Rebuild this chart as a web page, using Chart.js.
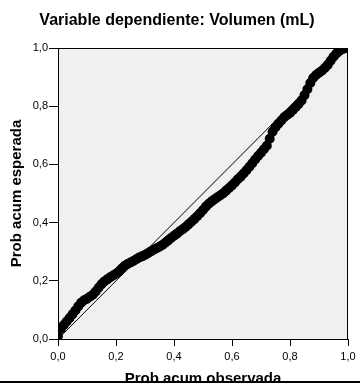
<!DOCTYPE html>
<html>
<head>
<meta charset="utf-8">
<script src="https://cdn.jsdelivr.net/npm/chart.js@4"></script>
<style>
  html, body { margin: 0; padding: 0; background: #fff; }
  #wrap { width: 360px; height: 383px; position: relative; }
</style>
</head>
<body>
<div id="wrap"><canvas id="ppPlot"></canvas></div>
<script>
// Gráfico P-P normal de los residuos: probabilidad acumulada observada vs esperada
const probObservada = [
  0.00, 0.01, 0.02, 0.03, 0.04, 0.05, 0.06, 0.07, 0.08, 0.09,
  0.10, 0.11, 0.12, 0.13, 0.14, 0.15, 0.16, 0.17, 0.18, 0.19,
  0.20, 0.21, 0.22, 0.23, 0.24, 0.25, 0.26, 0.27, 0.28, 0.29,
  0.30, 0.31, 0.32, 0.33, 0.34, 0.35, 0.36, 0.37, 0.38, 0.39,
  0.40, 0.41, 0.42, 0.43, 0.44, 0.45, 0.46, 0.47, 0.48, 0.49,
  0.50, 0.51, 0.52, 0.53, 0.54, 0.55, 0.56, 0.57, 0.58, 0.59,
  0.60, 0.61, 0.62, 0.63, 0.64, 0.65, 0.66, 0.67, 0.68, 0.69,
  0.70, 0.71, 0.72, 0.73, 0.74, 0.75, 0.76, 0.77, 0.78, 0.79,
  0.80, 0.81, 0.82, 0.83, 0.84, 0.85, 0.86, 0.87, 0.88, 0.89,
  0.90, 0.91, 0.92, 0.93, 0.94, 0.95, 0.96, 0.97, 0.98, 0.99,
  1.00
];
const probEsperada = [
  0.010, 0.035, 0.048, 0.060, 0.072, 0.085, 0.098, 0.112, 0.125, 0.133,
  0.138, 0.145, 0.152, 0.163, 0.176, 0.188, 0.198, 0.205, 0.212, 0.218,
  0.224, 0.232, 0.242, 0.252, 0.258, 0.263, 0.268, 0.274, 0.280, 0.284,
  0.289, 0.295, 0.301, 0.307, 0.312, 0.317, 0.323, 0.331, 0.339, 0.347,
  0.355, 0.362, 0.370, 0.377, 0.385, 0.394, 0.403, 0.412, 0.422, 0.432,
  0.443, 0.455, 0.465, 0.473, 0.480, 0.487, 0.494, 0.501, 0.510, 0.519,
  0.528, 0.538, 0.549, 0.558, 0.569, 0.580, 0.592, 0.604, 0.617, 0.629,
  0.640, 0.652, 0.664, 0.688, 0.712, 0.728, 0.740, 0.751, 0.762, 0.770,
  0.777, 0.787, 0.797, 0.808, 0.820, 0.838, 0.858, 0.880, 0.897, 0.907,
  0.915, 0.922, 0.931, 0.942, 0.956, 0.970, 0.981, 0.990, 0.996, 0.999,
  1.000
];
const ticksEje = [0, 0.2, 0.4, 0.6, 0.8, 1.0];
const diagonal = [0, 1];

const tituloGrafico = 'Variable dependiente: Volumen (mL)';
const tituloX = 'Prob acum observada';
const tituloY = 'Prob acum esperada';

const puntos = probObservada.map((x, i) => ({ x: x, y: probEsperada[i] }));
const linea = diagonal.map(v => ({ x: v, y: v }));

const fmt = v => v.toFixed(1).replace('.', ',');
const fuente = '"Liberation Sans", Arial, sans-serif';

// fondo gris del área, marco y textos
const decoracion = {
  id: 'decoracion',
  beforeDraw(chart) {
    const { ctx, chartArea: a } = chart;
    ctx.save();
    ctx.fillStyle = '#f0f0f0';
    ctx.fillRect(a.left, a.top, a.right - a.left, a.bottom - a.top);
    ctx.restore();
  },
  afterDraw(chart) {
    const { ctx, chartArea: a } = chart;
    ctx.save();
    ctx.strokeStyle = '#000';
    ctx.lineWidth = 1;
    ctx.strokeRect(a.left + 0.5, a.top + 0.5, a.right - a.left - 1, a.bottom - a.top);

    ctx.fillStyle = '#000';
    ctx.font = 'bold 16px ' + fuente;
    ctx.textAlign = 'center';
    ctx.textBaseline = 'alphabetic';
    ctx.fillText(tituloGrafico, 177, 25);

    ctx.font = 'bold 15px ' + fuente;
    ctx.fillText(tituloX, (a.left + a.right) / 2, 383);

    ctx.translate(21, (a.top + a.bottom) / 2);
    ctx.rotate(-Math.PI / 2);
    ctx.fillText(tituloY, 0, 0);
    ctx.restore();

    ctx.save();
    ctx.fillStyle = '#000';
    ctx.fillRect(0, 381, 360, 2);
    ctx.restore();
  }
};

new Chart(document.getElementById('ppPlot'), {
  type: 'scatter',
  data: {
    datasets: [
      {
        label: 'Diagonal',
        data: linea,
        showLine: true,
        borderColor: '#000',
        borderWidth: 1,
        pointRadius: 0,
        order: 2
      },
      {
        label: 'Residuos',
        data: puntos,
        pointStyle: 'circle',
        pointRadius: 4,
        pointBorderWidth: 2,
        borderColor: '#000',
        backgroundColor: '#000',
        order: 1
      }
    ]
  },
  options: {
    responsive: true,
    maintainAspectRatio: false,
    animation: false,
    layout: { padding: { top: 48, right: 12, left: 0, bottom: 0 } },
    plugins: {
      legend: { display: false },
      tooltip: { enabled: false }
    },
    scales: {
      x: {
        type: 'linear',
        min: 0,
        max: 1,
        afterBuildTicks: s => { s.ticks = ticksEje.map(v => ({ value: v })); },
        afterFit: s => { s.height = 44; },
        ticks: {
          callback: fmt,
          color: '#000',
          font: { size: 11, family: fuente },
          padding: 4,
          maxRotation: 0
        },
        grid: { drawOnChartArea: false, drawTicks: true, tickLength: 7, color: '#000' },
        border: { display: true, color: '#000' }
      },
      y: {
        type: 'linear',
        min: 0,
        max: 1,
        afterBuildTicks: s => { s.ticks = ticksEje.map(v => ({ value: v })); },
        afterFit: s => { s.width = 58; },
        ticks: {
          callback: fmt,
          color: '#000',
          font: { size: 11, family: fuente },
          padding: 1
        },
        grid: { drawOnChartArea: false, drawTicks: true, tickLength: 9, color: '#000' },
        border: { display: true, color: '#000' }
      }
    }
  },
  plugins: [decoracion]
});
</script>
</body>
</html>
